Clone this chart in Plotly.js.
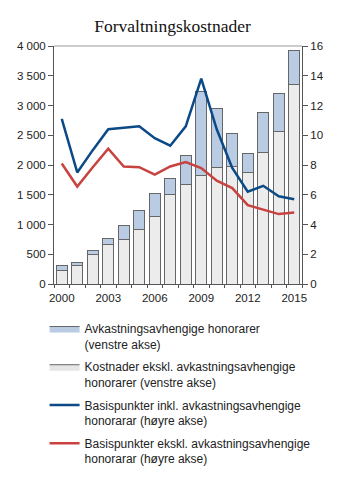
<!DOCTYPE html>
<html>
<head>
<meta charset="utf-8">
<script src="https://cdn.plot.ly/plotly-3.0.1.min.js"></script>
<style>html,body{margin:0;padding:0;background:#fff;}#chart{width:345px;height:482px;}</style>
</head>
<body>
<div id="chart"></div>
<script>
const years = [2000,2001,2002,2003,2004,2005,2006,2007,2008,2009,2010,2011,2012,2013,2014,2015];
// Left axis (mill. kroner)
const costsExclPerf = [235,315,494,668,742,921,1140,1511,1676,1825,1965,1980,1877,2205,2556,3350];
const perfFees      = [80,45,73,90,241,321,388,270,489,1403,985,555,313,680,644,567];
// Right axis (basispunkter)
const bpInclPerf = [11.1,7.5,9.0,10.4,10.5,10.6,9.8,9.3,10.6,13.8,10.4,7.8,6.2,6.6,5.9,5.7];
const bpExclPerf = [8.1,6.55,7.85,9.1,7.9,7.85,7.35,7.9,8.2,7.8,6.95,6.45,5.3,5.0,4.7,4.8];

const names = [
  'Avkastningsavhengige honorarer<br>(venstre akse)',
  'Kostnader ekskl. avkastningsavhengige<br>honorarer (venstre akse)',
  'Basispunkter inkl. avkastningsavhengige<br>honorarar (høyre akse)',
  'Basispunkter ekskl. avkastningsavhengige<br>honorarar (høyre akse)'
];

const blueFill = '#bacbe4', greyFill = '#e6e6e6', barLine = '#666';
const blueLine = '#0b4a86', redLine = '#c8423f';

const traces = [
  {type:'bar', x:years, y:costsExclPerf, marker:{color:'#ececec', line:{color:barLine, width:1}}, showlegend:false, hoverinfo:'skip'},
  {type:'bar', x:years, y:perfFees, marker:{color:blueFill, line:{color:barLine, width:1}}, showlegend:false, hoverinfo:'skip'},
  {type:'scatter', mode:'lines', x:years, y:bpExclPerf, yaxis:'y2', line:{color:redLine, width:2.5}, name:names[3], legendrank:4, legendgroup:'d'},
  {type:'scatter', mode:'lines', x:years, y:bpInclPerf, yaxis:'y2', line:{color:blueLine, width:2.5}, name:names[2], legendrank:3, legendgroup:'c'},
  // legend proxies for the bars
  {type:'scatter', mode:'lines', x:[null], y:[null], fill:'toself', fillcolor:blueFill, line:{color:barLine, width:1}, name:names[0], legendrank:1, legendgroup:'a'},
  {type:'scatter', mode:'lines', x:[null], y:[null], fill:'toself', fillcolor:greyFill, line:{color:barLine, width:1}, name:names[1], legendrank:2, legendgroup:'b'}
];

const layout = {
  width:345, height:482,
  margin:{l:54, r:43, t:46, b:198, autoexpand:false},
  paper_bgcolor:'#fff', plot_bgcolor:'#fff',
  separators:', ',
  barmode:'stack', bargap:0.27,
  font:{family:'Liberation Sans, Arial, sans-serif', size:11.5, color:'#222'},
  title:{text:'Forvaltningskostnader', font:{family:'Liberation Serif, Times New Roman, serif', size:17.5, color:'#111'}, x:0.5, xref:'container', xanchor:'center', y:0.947, yref:'container', yanchor:'middle'},
  xaxis:{type:'linear', range:[1999.5,2015.5], tickmode:'linear', tick0:2000, dtick:3, ticks:'outside', ticklen:3, tickcolor:'rgba(0,0,0,0)',
         showline:true, linecolor:'#555', linewidth:1, showgrid:false, zeroline:false, fixedrange:true,
         minor:{tickmode:'linear', tick0:1999.5, dtick:1, ticks:'outside', ticklen:3, tickcolor:'#555', showgrid:false},
         tickfont:{size:11.5, color:'#222'}},
  yaxis:{range:[0,4000], dtick:500, tickformat:',d', ticks:'outside', ticklen:5, tickcolor:'#555', showline:true, linecolor:'#555', linewidth:1,
         showgrid:false, zeroline:false, tickfont:{size:11.5, color:'#222'}},
  yaxis2:{range:[0,16], dtick:2, overlaying:'y', side:'right', ticks:'outside', ticklen:5, tickcolor:'#555', showline:true, linecolor:'#555', linewidth:1,
          showgrid:false, zeroline:false, tickfont:{size:11.5, color:'#222'}},
  shapes:[{type:'line', xref:'paper', yref:'paper', x0:0, x1:1, y0:1, y1:1, line:{color:'#999', width:1}}],
  legend:{x:-0.038, xanchor:'left', y:-0.127, yanchor:'top', traceorder:'grouped', valign:'top', tracegroupgap:4,
          font:{size:12, color:'#222'}, bgcolor:'rgba(0,0,0,0)', itemclick:false, itemdoubleclick:false}
};

Plotly.newPlot('chart', traces, layout, {staticPlot:true, displayModeBar:false});
</script>
</body>
</html>
